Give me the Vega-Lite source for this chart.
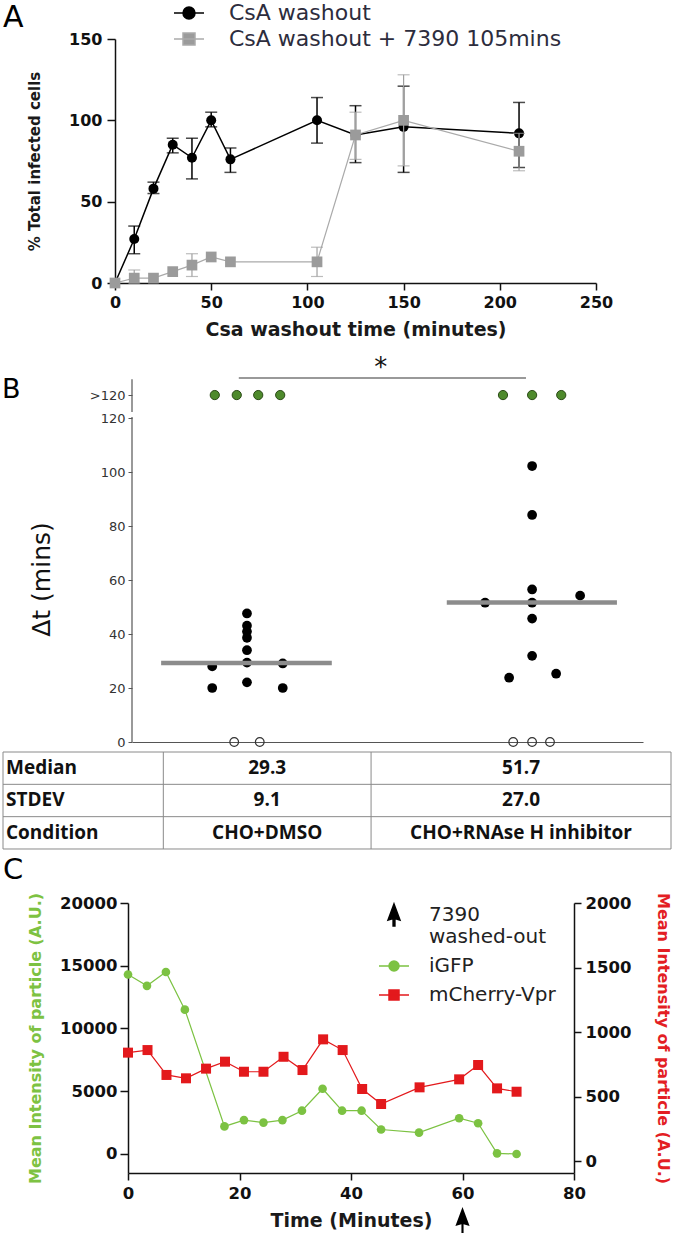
{
  "$schema": "https://vega.github.io/schema/vega-lite/v6.json",
  "padding": 0,
  "spacing": 10,
  "bounds": "flush",
  "resolve": {"scale": {"shape": "independent", "fill": "independent", "stroke": "independent", "color": "independent"}, "legend": {"shape": "independent", "fill": "independent", "stroke": "independent", "color": "independent"}},
  "config": {"view": {"stroke": null}, "axis": {"grid": false, "labelFlush": false, "labelOverlap": false}, "font": "DejaVu Sans"},
  "datasets": {
    "infection": [
      {"series": "CsA washout", "t": 0, "pct": 0},
      {"series": "CsA washout", "t": 10, "pct": 27, "lo": 18, "hi": 35},
      {"series": "CsA washout", "t": 20, "pct": 58, "lo": 55, "hi": 62},
      {"series": "CsA washout", "t": 30, "pct": 85, "lo": 80, "hi": 89},
      {"series": "CsA washout", "t": 40, "pct": 77, "lo": 64, "hi": 89},
      {"series": "CsA washout", "t": 50, "pct": 100, "lo": 96, "hi": 105},
      {"series": "CsA washout", "t": 60, "pct": 76, "lo": 68, "hi": 83},
      {"series": "CsA washout", "t": 105, "pct": 100, "lo": 86, "hi": 114},
      {"series": "CsA washout", "t": 125, "pct": 91, "lo": 74, "hi": 109},
      {"series": "CsA washout", "t": 150, "pct": 96, "lo": 68, "hi": 121},
      {"series": "CsA washout", "t": 210, "pct": 92, "lo": 71, "hi": 111},
      {"series": "CsA washout + 7390 105mins", "t": 0, "pct": 0},
      {"series": "CsA washout + 7390 105mins", "t": 10, "pct": 3, "lo": 0, "hi": 8},
      {"series": "CsA washout + 7390 105mins", "t": 20, "pct": 3},
      {"series": "CsA washout + 7390 105mins", "t": 30, "pct": 7},
      {"series": "CsA washout + 7390 105mins", "t": 40, "pct": 11, "lo": 4, "hi": 18},
      {"series": "CsA washout + 7390 105mins", "t": 50, "pct": 16},
      {"series": "CsA washout + 7390 105mins", "t": 60, "pct": 13},
      {"series": "CsA washout + 7390 105mins", "t": 105, "pct": 13, "lo": 4, "hi": 22},
      {"series": "CsA washout + 7390 105mins", "t": 125, "pct": 91, "lo": 76, "hi": 105},
      {"series": "CsA washout + 7390 105mins", "t": 150, "pct": 100, "lo": 72, "hi": 128},
      {"series": "CsA washout + 7390 105mins", "t": 210, "pct": 81, "lo": 69, "hi": 92}
    ],
    "delta": [
      {"cond": "CHO+DMSO", "pos": 15.7, "dt": 28, "kind": "measured"},
      {"cond": "CHO+DMSO", "pos": 15.7, "dt": 20, "kind": "measured"},
      {"cond": "CHO+DMSO", "pos": 22.5, "dt": 47.6, "kind": "measured"},
      {"cond": "CHO+DMSO", "pos": 22.5, "dt": 43.1, "kind": "measured"},
      {"cond": "CHO+DMSO", "pos": 22.5, "dt": 40.9, "kind": "measured"},
      {"cond": "CHO+DMSO", "pos": 22.5, "dt": 38.6, "kind": "measured"},
      {"cond": "CHO+DMSO", "pos": 22.5, "dt": 34, "kind": "measured"},
      {"cond": "CHO+DMSO", "pos": 22.5, "dt": 29.4, "kind": "measured"},
      {"cond": "CHO+DMSO", "pos": 22.5, "dt": 22.1, "kind": "measured"},
      {"cond": "CHO+DMSO", "pos": 29.5, "dt": 29.1, "kind": "measured"},
      {"cond": "CHO+DMSO", "pos": 29.5, "dt": 20, "kind": "measured"},
      {"cond": "CHO+DMSO", "pos": 16.2, "dt": 128.5, "kind": "over120"},
      {"cond": "CHO+DMSO", "pos": 20.5, "dt": 128.5, "kind": "over120"},
      {"cond": "CHO+DMSO", "pos": 24.7, "dt": 128.5, "kind": "over120"},
      {"cond": "CHO+DMSO", "pos": 29.0, "dt": 128.5, "kind": "over120"},
      {"cond": "CHO+DMSO", "pos": 20.0, "dt": 0, "kind": "zero"},
      {"cond": "CHO+DMSO", "pos": 25.0, "dt": 0, "kind": "zero"},
      {"cond": "CHO+RNAse H inhibitor", "pos": 78.3, "dt": 102.2, "kind": "measured"},
      {"cond": "CHO+RNAse H inhibitor", "pos": 78.3, "dt": 84.1, "kind": "measured"},
      {"cond": "CHO+RNAse H inhibitor", "pos": 78.3, "dt": 56.5, "kind": "measured"},
      {"cond": "CHO+RNAse H inhibitor", "pos": 78.3, "dt": 51.6, "kind": "measured"},
      {"cond": "CHO+RNAse H inhibitor", "pos": 69.1, "dt": 51.6, "kind": "measured"},
      {"cond": "CHO+RNAse H inhibitor", "pos": 87.7, "dt": 54.2, "kind": "measured"},
      {"cond": "CHO+RNAse H inhibitor", "pos": 78.3, "dt": 45.7, "kind": "measured"},
      {"cond": "CHO+RNAse H inhibitor", "pos": 78.3, "dt": 31.9, "kind": "measured"},
      {"cond": "CHO+RNAse H inhibitor", "pos": 73.8, "dt": 23.8, "kind": "measured"},
      {"cond": "CHO+RNAse H inhibitor", "pos": 83.0, "dt": 25.3, "kind": "measured"},
      {"cond": "CHO+RNAse H inhibitor", "pos": 72.6, "dt": 128.5, "kind": "over120"},
      {"cond": "CHO+RNAse H inhibitor", "pos": 78.3, "dt": 128.5, "kind": "over120"},
      {"cond": "CHO+RNAse H inhibitor", "pos": 84.0, "dt": 128.5, "kind": "over120"},
      {"cond": "CHO+RNAse H inhibitor", "pos": 74.6, "dt": 0, "kind": "zero"},
      {"cond": "CHO+RNAse H inhibitor", "pos": 78.3, "dt": 0, "kind": "zero"},
      {"cond": "CHO+RNAse H inhibitor", "pos": 81.8, "dt": 0, "kind": "zero"}
    ],
    "medians": [
      {"cond": "CHO+DMSO", "pos": 5.7, "pos2": 39.1, "dt": 29.3},
      {"cond": "CHO+RNAse H inhibitor", "pos": 61.6, "pos2": 94.9, "dt": 51.7}
    ],
    "brokenAxis": [
      {"pos": 0, "dt": 0, "dt2": 120.4},
      {"pos": 0, "dt": 122.2, "dt2": 134.4}
    ],
    "signif": [{"pos": 20.9, "pos2": 77.1, "dt": 134.8, "mark": "*", "starPos": 48.7, "starDt": 135.5}],
    "stats": [
      {"row": 0, "label": "Median", "dmso": "29.3", "rnase": "51.7"},
      {"row": 1, "label": "STDEV", "dmso": "9.1", "rnase": "27.0"},
      {"row": 2, "label": "Condition", "dmso": "CHO+DMSO", "rnase": "CHO+RNAse H inhibitor"}
    ],
    "hlines": [{"edge": -0.5}, {"edge": 0.5}, {"edge": 1.5}, {"edge": 2.5}],
    "vlines": [{"edge": 0}, {"edge": 24}, {"edge": 55.1}, {"edge": 100}],
    "igfp": [
      {"time": 0, "gfp": 14300}, {"time": 3.4, "gfp": 13400}, {"time": 6.8, "gfp": 14500},
      {"time": 10.2, "gfp": 11500}, {"time": 17.3, "gfp": 2200}, {"time": 20.8, "gfp": 2700},
      {"time": 24.3, "gfp": 2500}, {"time": 27.7, "gfp": 2700}, {"time": 31.2, "gfp": 3450},
      {"time": 34.9, "gfp": 5200}, {"time": 38.4, "gfp": 3450}, {"time": 41.9, "gfp": 3450},
      {"time": 45.4, "gfp": 1950}, {"time": 52.2, "gfp": 1700}, {"time": 59.4, "gfp": 2850},
      {"time": 62.8, "gfp": 2450}, {"time": 66.2, "gfp": 50}, {"time": 69.7, "gfp": 0}
    ],
    "mcherry": [
      {"time": 0, "vpr": 840}, {"time": 3.5, "vpr": 860}, {"time": 6.9, "vpr": 667},
      {"time": 10.4, "vpr": 641}, {"time": 14, "vpr": 716}, {"time": 17.4, "vpr": 770},
      {"time": 20.8, "vpr": 692}, {"time": 24.3, "vpr": 692}, {"time": 27.9, "vpr": 808},
      {"time": 31.3, "vpr": 705}, {"time": 35, "vpr": 943}, {"time": 38.5, "vpr": 860},
      {"time": 42, "vpr": 558}, {"time": 45.4, "vpr": 442}, {"time": 52.3, "vpr": 571},
      {"time": 59.4, "vpr": 633}, {"time": 62.8, "vpr": 744}, {"time": 66.2, "vpr": 563},
      {"time": 69.7, "vpr": 537}
    ],
    "washout": [{"time": 60, "event": "7390 washed-out"}]
  },
  "vconcat": [
    {
      "width": 596,
      "height": 283,
      "title": {"text": "A", "orient": "top", "anchor": "start", "frame": "group", "baseline": "top", "offset": -33, "dx": 3, "font": "DejaVu Sans", "fontSize": 30, "fontWeight": "normal", "color": "#000"},
      "data": {"name": "infection"},
      "encoding": {
        "x": {"field": "t", "type": "quantitative", "scale": {"domain": [0, 250], "range": [115, 596], "nice": false, "zero": false},
          "axis": {"title": "Csa washout time (minutes)", "values": [0, 50, 100, 150, 200, 250], "domainColor": "#111", "domainWidth": 1.5, "tickColor": "#111", "tickWidth": 1.5, "tickSize": 7, "labelFont": "DejaVu Sans", "labelFontWeight": "bold", "labelFontSize": 16, "labelColor": "#111", "labelPadding": 4, "titleFont": "DejaVu Sans", "titleFontWeight": "bold", "titleFontSize": 19, "titleColor": "#1a1a1a", "titlePadding": 10}},
        "y": {"field": "pct", "type": "quantitative", "scale": {"domain": [0, 150], "range": [283, 39], "nice": false},
          "axis": {"title": "% Total infected cells", "values": [0, 50, 100, 150], "offset": -115, "domainColor": "#111", "domainWidth": 1.5, "tickColor": "#111", "tickWidth": 1.5, "tickSize": 8, "labelFont": "DejaVu Sans", "labelFontWeight": "bold", "labelFontSize": 16, "labelColor": "#111", "labelPadding": 5, "titleFont": "DejaVu Sans", "titleFontWeight": "bold", "titleFontSize": 15, "titleColor": "#1a1a1a", "titlePadding": 26}}
      },
      "layer": [
        {"transform": [{"filter": "datum.series === 'CsA washout'"}], "mark": {"type": "line", "color": "#000", "strokeWidth": 1.5}},
        {"transform": [{"filter": "datum.series === 'CsA washout' && isValid(datum.lo)"}],
         "mark": {"type": "errorbar", "color": "#000", "thickness": 1.5, "ticks": {"size": 12, "thickness": 1.5, "color": "#000"}},
         "encoding": {"y": {"field": "lo", "type": "quantitative", "title": "% Total infected cells"}, "y2": {"field": "hi"}}},
        {"transform": [{"filter": "datum.series === 'CsA washout'"}], "mark": {"type": "circle", "color": "#000", "size": 100, "opacity": 1}},
        {"transform": [{"filter": "datum.series !== 'CsA washout'"}], "mark": {"type": "line", "color": "#aaaaaa", "strokeWidth": 1.2}},
        {"transform": [{"filter": "datum.series !== 'CsA washout' && isValid(datum.lo)"}],
         "mark": {"type": "errorbar", "color": "#a0a0a0", "thickness": 1.2, "ticks": {"size": 12, "thickness": 1.2, "color": "#a0a0a0"}},
         "encoding": {"y": {"field": "lo", "type": "quantitative", "title": "% Total infected cells"}, "y2": {"field": "hi"}}},
        {"transform": [{"filter": "datum.series !== 'CsA washout'"}], "mark": {"type": "square", "color": "#9b9b9b", "size": 115, "opacity": 1}},
        {
          "data": {"values": [{"series": "CsA washout"}, {"series": "CsA washout + 7390 105mins"}]},
          "transform": [{"filter": "false"}],
          "mark": {"type": "point", "opacity": 1, "strokeWidth": 1.5},
          "encoding": {
            "shape": {"field": "series", "type": "nominal",
              "scale": {"domain": ["CsA washout", "CsA washout + 7390 105mins"], "range": ["M-1.5,0H1.5M0.6,0A0.6,0.6,0,1,1,-0.6,0A0.6,0.6,0,1,1,0.6,0Z", "M-1.5,0H1.5M-0.6,-0.6H0.6V0.6H-0.6Z"]},
              "legend": {"title": null, "orient": "none", "legendX": 178, "legendY": 2, "padding": 0, "symbolSize": 400, "symbolStrokeWidth": 1.5, "labelFont": "DejaVu Sans", "labelFontSize": 22, "labelColor": "#2d2d3d", "labelOffset": 29, "labelLimit": 400, "rowPadding": 4}},
            "fill": {"field": "series", "type": "nominal",
              "scale": {"domain": ["CsA washout", "CsA washout + 7390 105mins"], "range": ["#000000", "#9b9b9b"]},
              "legend": {"title": null, "orient": "none", "legendX": 178, "legendY": 2, "padding": 0, "symbolSize": 400, "symbolStrokeWidth": 1.5, "labelFont": "DejaVu Sans", "labelFontSize": 22, "labelColor": "#2d2d3d", "labelOffset": 29, "labelLimit": 400, "rowPadding": 4}},
            "stroke": {"field": "series", "type": "nominal",
              "scale": {"domain": ["CsA washout", "CsA washout + 7390 105mins"], "range": ["#000000", "#aaaaaa"]},
              "legend": {"title": null, "orient": "none", "legendX": 178, "legendY": 2, "padding": 0, "symbolSize": 400, "symbolStrokeWidth": 1.5, "labelFont": "DejaVu Sans", "labelFontSize": 22, "labelColor": "#2d2d3d", "labelOffset": 29, "labelLimit": 400, "rowPadding": 4}}
          }
        }
      ]
    },
    {
      "width": 643,
      "height": 449,
      "title": {"text": "B", "orient": "top", "anchor": "start", "frame": "group", "baseline": "top", "offset": -111, "dx": 2, "font": "DejaVu Sans", "fontSize": 27, "fontWeight": "normal", "color": "#000"},
      "encoding": {
        "x": {"field": "pos", "type": "quantitative", "scale": {"domain": [0, 100], "range": [132, 643], "nice": false, "zero": false},
          "axis": {"title": null, "labels": false, "ticks": false, "domain": true, "domainColor": "#555", "domainWidth": 1.2}},
        "y": {"field": "dt", "type": "quantitative", "scale": {"domain": [0, 166.3], "nice": false},
          "axis": {"title": "Δt (mins)", "values": [0, 20, 40, 60, 80, 100, 120, 128.5], "labelExpr": "datum.value > 125 ? '>120' : datum.label", "domain": false, "offset": -132, "tickSize": 4, "tickColor": "#555", "tickWidth": 1, "labelFont": "DejaVu Sans", "labelFontSize": 13, "labelColor": "#333", "labelPadding": 3, "titleFont": "DejaVu Sans", "titleFontSize": 25, "titleFontWeight": "normal", "titleColor": "#111", "titleX": -78, "titleY": 286}}
      },
      "layer": [
        {"data": {"name": "brokenAxis"}, "mark": {"type": "rule", "color": "#555", "strokeWidth": 1.2}, "encoding": {"y2": {"field": "dt2"}}},
        {"data": {"name": "signif"}, "mark": {"type": "rule", "color": "#999", "strokeWidth": 2}, "encoding": {"x2": {"field": "pos2"}}},
        {"data": {"name": "signif"}, "mark": {"type": "text", "font": "DejaVu Sans", "fontSize": 26, "color": "#111", "baseline": "alphabetic", "align": "center"},
         "encoding": {"x": {"field": "starPos", "type": "quantitative"}, "y": {"field": "starDt", "type": "quantitative"}, "text": {"field": "mark"}}},
        {"data": {"name": "delta"}, "transform": [{"filter": "datum.kind === 'measured'"}], "mark": {"type": "circle", "color": "#000", "size": 95, "opacity": 1}},
        {"data": {"name": "delta"}, "transform": [{"filter": "datum.kind === 'over120'"}], "mark": {"type": "circle", "fill": "#4e8a2c", "stroke": "#2b4a17", "strokeWidth": 1, "size": 85, "opacity": 1}},
        {"data": {"name": "delta"}, "transform": [{"filter": "datum.kind === 'zero'"}], "mark": {"type": "point", "shape": "circle", "filled": false, "color": "#333", "strokeWidth": 1.2, "size": 75, "opacity": 1}},
        {"data": {"name": "medians"}, "mark": {"type": "rule", "color": "#8c8c8c", "strokeWidth": 4.5}, "encoding": {"x2": {"field": "pos2"}}}
      ]
    },
    {
      "width": 671,
      "height": 141,
      "layer": [
        {"data": {"name": "hlines"}, "mark": {"type": "rule", "color": "#8a8a8a", "strokeWidth": 1},
         "encoding": {
           "y": {"field": "edge", "type": "quantitative", "scale": {"domain": [-0.5, 3.861], "reverse": true, "nice": false, "zero": false}, "axis": null},
           "x": {"datum": 0, "scale": {"domain": [0, 100], "range": [3, 671], "nice": false, "zero": false}, "axis": null},
           "x2": {"datum": 100}}},
        {"data": {"name": "vlines"}, "mark": {"type": "rule", "color": "#8a8a8a", "strokeWidth": 1},
         "encoding": {
           "x": {"field": "edge", "type": "quantitative", "scale": {"domain": [0, 100], "range": [3, 671], "nice": false, "zero": false}, "axis": null},
           "y": {"datum": -0.5, "scale": {"domain": [-0.5, 3.861], "reverse": true, "nice": false, "zero": false}, "axis": null},
           "y2": {"datum": 2.5}}},
        {"data": {"name": "stats"}, "mark": {"type": "text", "font": "Open Sans", "fontWeight": "bold", "fontSize": 19, "color": "#111", "align": "left", "baseline": "middle", "dx": 3},
         "encoding": {
           "x": {"datum": 0, "scale": {"domain": [0, 100], "range": [3, 671], "nice": false, "zero": false}, "axis": null},
           "y": {"field": "row", "type": "quantitative", "scale": {"domain": [-0.5, 3.861], "reverse": true, "nice": false, "zero": false}, "axis": null},
           "text": {"field": "label"}}},
        {"data": {"name": "stats"}, "mark": {"type": "text", "font": "Open Sans", "fontWeight": "bold", "fontSize": 19, "color": "#111", "align": "center", "baseline": "middle"},
         "encoding": {
           "x": {"datum": 39.55, "scale": {"domain": [0, 100], "range": [3, 671], "nice": false, "zero": false}, "axis": null},
           "y": {"field": "row", "type": "quantitative", "scale": {"domain": [-0.5, 3.861], "reverse": true, "nice": false, "zero": false}, "axis": null},
           "text": {"field": "dmso"}}},
        {"data": {"name": "stats"}, "mark": {"type": "text", "font": "Open Sans", "fontWeight": "bold", "fontSize": 19, "color": "#111", "align": "center", "baseline": "middle"},
         "encoding": {
           "x": {"datum": 77.55, "scale": {"domain": [0, 100], "range": [3, 671], "nice": false, "zero": false}, "axis": null},
           "y": {"field": "row", "type": "quantitative", "scale": {"domain": [-0.5, 3.861], "reverse": true, "nice": false, "zero": false}, "axis": null},
           "text": {"field": "rnase"}}}
      ]
    },
    {
      "width": 574,
      "height": 270,
      "title": {"text": "C", "orient": "top", "anchor": "start", "frame": "group", "baseline": "top", "offset": 5, "dx": 3, "font": "DejaVu Sans", "fontSize": 29, "fontWeight": "normal", "color": "#000"},
      "encoding": {
        "x": {"field": "time", "type": "quantitative", "scale": {"domain": [0, 80], "range": [128, 574], "nice": false, "zero": false},
          "axis": {"title": "Time (Minutes)", "values": [0, 20, 40, 60, 80], "domainColor": "#111", "domainWidth": 1.5, "tickColor": "#111", "tickWidth": 1.5, "tickSize": 7, "labelFont": "DejaVu Sans", "labelFontWeight": "bold", "labelFontSize": 16.5, "labelColor": "#111", "labelPadding": 5, "titleFont": "DejaVu Sans", "titleFontWeight": "bold", "titleFontSize": 19, "titleColor": "#1a1a1a", "titlePadding": 10}}
      },
      "layer": [
        {
          "data": {"name": "igfp"},
          "encoding": {"y": {"field": "gfp", "type": "quantitative", "scale": {"domain": [-1515, 20000], "nice": false, "zero": false},
            "axis": {"title": "Mean Intensity of particle  (A.U.)", "orient": "left", "values": [0, 5000, 10000, 15000, 20000], "format": "d", "offset": -128, "domainColor": "#111", "domainWidth": 1.5, "tickColor": "#111", "tickWidth": 1.5, "tickSize": 8, "labelFont": "DejaVu Sans", "labelFontWeight": "bold", "labelFontSize": 16.5, "labelColor": "#111", "labelPadding": 3, "titleFont": "DejaVu Sans", "titleFontWeight": "bold", "titleFontSize": 16, "titleColor": "#7dc242", "titlePadding": 16}}},
          "layer": [
            {"mark": {"type": "line", "color": "#7cc242", "strokeWidth": 1.2}},
            {"mark": {"type": "circle", "color": "#7cc242", "size": 75, "opacity": 1}}
          ]
        },
        {
          "data": {"name": "mcherry"},
          "encoding": {"y": {"field": "vpr", "type": "quantitative", "scale": {"domain": [-93, 2000], "nice": false, "zero": false},
            "axis": {"title": "Mean Intensity of particle (A.U.)", "orient": "right", "values": [0, 500, 1000, 1500, 2000], "format": "d", "domainColor": "#111", "domainWidth": 1.5, "tickColor": "#111", "tickWidth": 1.5, "tickSize": 7, "labelFont": "DejaVu Sans", "labelFontWeight": "bold", "labelFontSize": 16.5, "labelColor": "#111", "labelPadding": 4, "titleFont": "DejaVu Sans", "titleFontWeight": "bold", "titleFontSize": 16, "titleColor": "#e31e24", "titlePadding": 24}}},
          "layer": [
            {"mark": {"type": "line", "color": "#e3191c", "strokeWidth": 1.2}},
            {"mark": {"type": "square", "color": "#e3191c", "size": 100, "opacity": 1}}
          ]
        },
        {
          "data": {"name": "washout"},
          "mark": {"type": "point", "shape": "M0,-1.1L0.6,0.5L0.09,0.35L0.09,1.1L-0.09,1.1L-0.09,0.35L-0.6,0.5Z", "size": 557, "filled": true, "color": "#000", "opacity": 1},
          "encoding": {"y": {"datum": -5260, "scale": {"domain": [-1515, 20000], "nice": false, "zero": false}, "axis": null}}
        },
        {
          "data": {"values": [{"series": "7390 washed-out"}, {"series": "iGFP"}, {"series": "mCherry-Vpr"}]},
          "transform": [{"filter": "false"}],
          "mark": {"type": "point", "opacity": 1, "strokeWidth": 1.5},
          "encoding": {
            "shape": {"field": "series", "type": "nominal",
              "scale": {"domain": ["7390 washed-out", "iGFP", "mCherry-Vpr"], "range": ["M0,-1.1L0.6,0.5L0.09,0.35L0.09,1.1L-0.09,1.1L-0.09,0.35L-0.6,0.5Z", "M-1.5,0H1.5M0.5,0A0.5,0.5,0,1,1,-0.5,0A0.5,0.5,0,1,1,0.5,0Z", "M-1.5,0H1.5M-0.5,-0.5H0.5V0.5H-0.5Z"]},
              "legend": {"title": null, "orient": "none", "legendX": 383, "legendY": 1, "padding": 0, "symbolSize": 400, "symbolStrokeWidth": 1.5, "labelFont": "DejaVu Sans", "labelFontSize": 20, "labelColor": "#222", "labelOffset": 24, "labelLimit": 400, "rowPadding": 8, "labelExpr": "datum.label == '7390 washed-out' ? ['7390', 'washed-out'] : datum.label"}},
            "fill": {"field": "series", "type": "nominal",
              "scale": {"domain": ["7390 washed-out", "iGFP", "mCherry-Vpr"], "range": ["#000000", "#7cc242", "#e3191c"]},
              "legend": {"title": null, "orient": "none", "legendX": 383, "legendY": 1, "padding": 0, "symbolSize": 400, "symbolStrokeWidth": 1.5, "labelFont": "DejaVu Sans", "labelFontSize": 20, "labelColor": "#222", "labelOffset": 24, "labelLimit": 400, "rowPadding": 8, "labelExpr": "datum.label == '7390 washed-out' ? ['7390', 'washed-out'] : datum.label"}},
            "stroke": {"field": "series", "type": "nominal",
              "scale": {"domain": ["7390 washed-out", "iGFP", "mCherry-Vpr"], "range": ["#000000", "#7cc242", "#e3191c"]},
              "legend": {"title": null, "orient": "none", "legendX": 383, "legendY": 1, "padding": 0, "symbolSize": 400, "symbolStrokeWidth": 1.5, "labelFont": "DejaVu Sans", "labelFontSize": 20, "labelColor": "#222", "labelOffset": 24, "labelLimit": 400, "rowPadding": 8, "labelExpr": "datum.label == '7390 washed-out' ? ['7390', 'washed-out'] : datum.label"}}
          }
        }
      ],
      "resolve": {"scale": {"y": "independent"}}
    }
  ]
}
